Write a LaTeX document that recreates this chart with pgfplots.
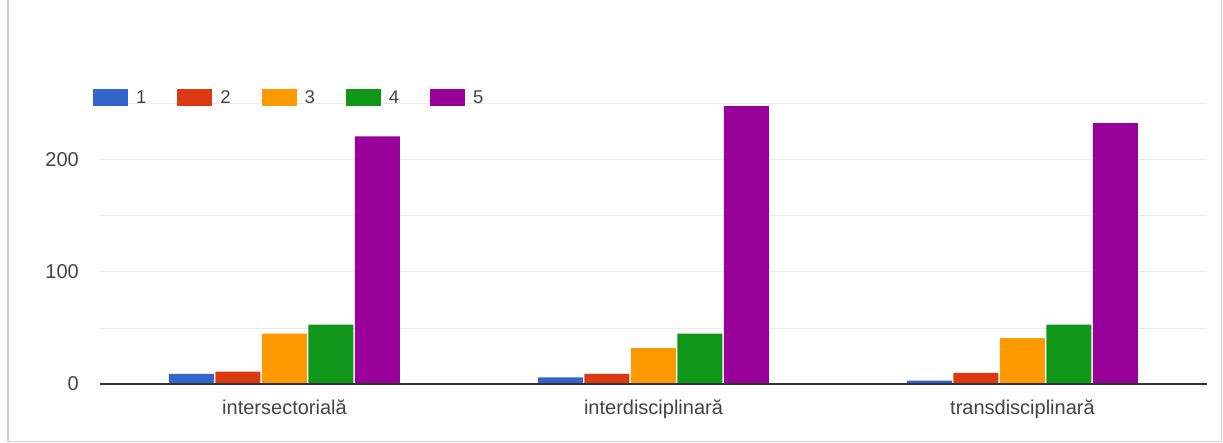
\documentclass[border=0pt]{standalone}
\usepackage{pgfplots}
\pgfplotsset{compat=1.18}
\usepackage{fontspec}
\setmainfont{Liberation Sans}
\definecolor{c1}{HTML}{3366CC}
\definecolor{c2}{HTML}{DC3912}
\definecolor{c3}{HTML}{FF9900}
\definecolor{c4}{HTML}{109618}
\definecolor{c5}{HTML}{990099}
\definecolor{gridc}{HTML}{EBEBEB}
\definecolor{basec}{HTML}{333333}
\definecolor{txt}{HTML}{444444}
\definecolor{framec}{HTML}{D0D0D0}
\begin{document}
\begin{tikzpicture}[x=1pt,y=1pt]
\useasboundingbox (0,0) rectangle (1223,442);
\fill[white] (0,0) rectangle (1223,442);
\draw[framec, line width=2.5pt] (8,0) -- (8,442);
\draw[framec, line width=1pt] (8,1) -- (1221.5,1) -- (1221.5,442);
\begin{axis}[
  at={(100pt,58pt)}, anchor=south west,
  scale only axis, width=1107pt, height=280pt,
  xmin=-0.5, xmax=2.5, ymin=0, ymax=250,
  ybar=1.5pt, bar width=45pt,
  axis line style={draw=none},
  xtick={0,1,2},
  xticklabels={intersectorială, interdisciplinară, transdisciplinară},
  ytick={0,100,200}, minor ytick={50,150,250},
  ymajorgrids, yminorgrids,
  major grid style={color=gridc, line width=1pt},
  minor grid style={color=gridc, line width=1pt},
  major tick length=0pt, minor tick length=0pt,
  tick style={draw=none},
  /pgf/number format/assume math mode=true,
  ticklabel style={font=\fontsize{20}{23}\selectfont, text=txt},
  yticklabel style={anchor=east, inner sep=0pt, xshift=-21pt},
  xticklabel style={anchor=north, inner sep=0pt, yshift=-16pt},
  legend columns=5,
  legend image code/.code={\fill (0pt,-8.5pt) rectangle (35pt,8.5pt);},
  legend style={at={(0,1)}, anchor=west, xshift=-7pt, yshift=6.5pt,
    draw=none, fill=none, inner sep=0pt, outer sep=0pt,
    font=\fontsize{18.5}{21}\selectfont, text=txt,
    nodes={inner sep=0pt},
    /tikz/every odd column/.append style={column sep=8pt},
    /tikz/every even column/.append style={column sep=31pt}},
]
\addplot[fill=c1, draw=none] coordinates {(0,9) (1,6) (2,3)};
\addplot[fill=c2, draw=none] coordinates {(0,11) (1,9) (2,10)};
\addplot[fill=c3, draw=none] coordinates {(0,45) (1,32) (2,41)};
\addplot[fill=c4, draw=none] coordinates {(0,53) (1,45) (2,53)};
\addplot[fill=c5, draw=none] coordinates {(0,221) (1,248) (2,233)};
\legend{1,2,3,4,5}
\draw[basec, line width=2pt] (axis description cs:0,0) -- (axis description cs:1,0);
\end{axis}
\end{tikzpicture}
\end{document}
